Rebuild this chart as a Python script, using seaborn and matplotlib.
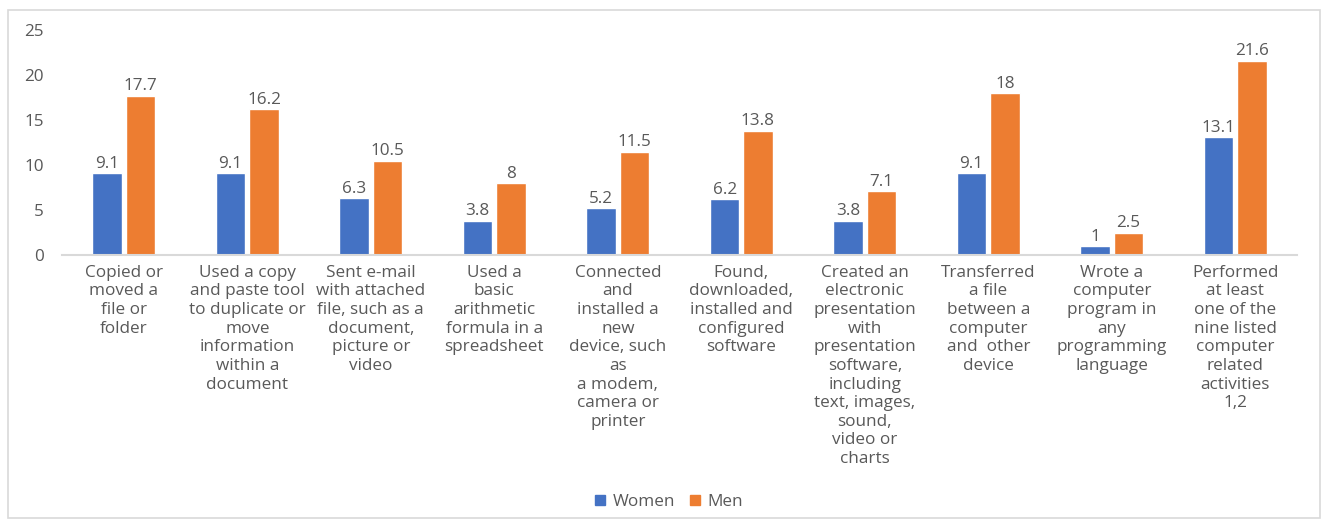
import matplotlib.pyplot as plt
import matplotlib.patches as mpatches
import pandas as pd
import seaborn as sns

categories = [
    'Copied or\nmoved a\nfile or\nfolder',
    'Used a copy\nand paste tool\nto duplicate or\nmove\ninformation\nwithin a\ndocument',
    'Sent e-mail\nwith attached\nfile, such as a\ndocument,\npicture or\nvideo',
    'Used a\nbasic\narithmetic\nformula in a\nspreadsheet',
    'Connected\nand\ninstalled a\nnew\ndevice, such\nas\na modem,\ncamera or\nprinter',
    'Found,\ndownloaded,\ninstalled and\nconfigured\nsoftware',
    'Created an\nelectronic\npresentation\nwith\npresentation\nsoftware,\nincluding\ntext, images,\nsound,\nvideo or\ncharts',
    'Transferred\na file\nbetween a\ncomputer\nand  other\ndevice',
    'Wrote a\ncomputer\nprogram in\nany\nprogramming\nlanguage',
    'Performed\nat least\none of the\nnine listed\ncomputer\nrelated\nactivities\n1,2',
]
women = [9.1, 9.1, 6.3, 3.8, 5.2, 6.2, 3.8, 9.1, 1, 13.1]
men = [17.7, 16.2, 10.5, 8, 11.5, 13.8, 7.1, 18, 2.5, 21.6]
series = ['Women', 'Men']
colors = {'Women': '#4472C4', 'Men': '#ED7D31'}

df = pd.DataFrame({
    'category': categories * 2,
    'value': women + men,
    'group': ['Women'] * len(women) + ['Men'] * len(men),
})

sns.set_style('white')
plt.rcParams['font.family'] = ['Open Sans', 'DejaVu Sans']
text_color = '#595959'
fs = 12.3

fig = plt.figure(figsize=(13.25, 5.2), dpi=100)
ax = fig.add_axes([0.0468, 0.5096, 0.9321, 0.4327])

sns.barplot(data=df, x='category', y='value', hue='group', hue_order=series,
            palette=colors, width=0.54, gap=0.12, ax=ax, saturation=1,
            legend=False)

for cont in ax.containers:
    ax.bar_label(cont, labels=['{:g}'.format(v) for v in cont.datavalues],
                 padding=1, fontsize=fs, color=text_color)

ax.set_ylim(0, 25)
ax.set_yticks([0, 5, 10, 15, 20, 25])
ax.set_xlim(-0.5, len(categories) - 0.5)
ax.set_xlabel('')
ax.set_ylabel('')
for s in ['top', 'right', 'left']:
    ax.spines[s].set_visible(False)
ax.spines['bottom'].set_color('#D9D9D9')
ax.spines['bottom'].set_linewidth(1.5)
ax.tick_params(axis='both', length=0, colors=text_color, labelsize=fs)
ax.tick_params(axis='y', pad=13)
ax.tick_params(axis='x', pad=7)
for lbl in ax.get_xticklabels():
    lbl.set_linespacing(1.22)
    lbl.set_horizontalalignment('center')

handles = [mpatches.Patch(color=colors[s], label=s) for s in series]
fig.legend(handles=handles, loc='lower center', bbox_to_anchor=(0.505, -0.01),
           ncol=2, frameon=False, fontsize=fs, handlelength=0.55,
           handleheight=0.55, handletextpad=0.45, columnspacing=0.9,
           labelcolor=text_color)

fig.patches.append(mpatches.Rectangle((8 / 1325, 2 / 520), 1312 / 1325, 508 / 520,
                                      transform=fig.transFigure, fill=False,
                                      edgecolor='#D9D9D9', linewidth=1.2))

fig.savefig('out.png', dpi=100)
